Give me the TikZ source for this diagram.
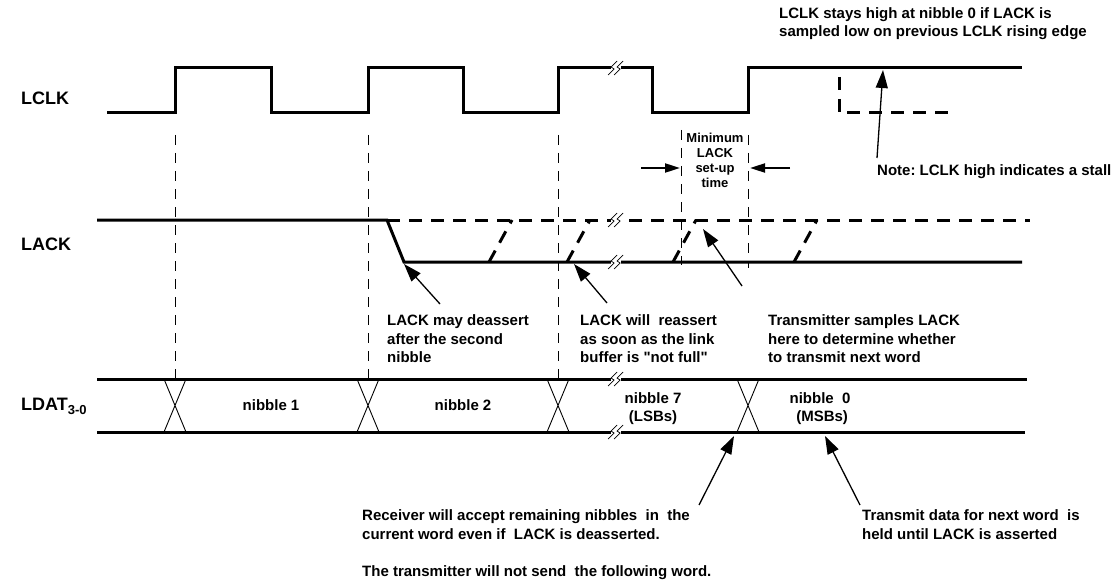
\documentclass[tikz,border=0pt]{standalone}
\usepackage{fontspec}
\setmainfont{Liberation Sans}[Ligatures=TeXOff]
\usetikzlibrary{arrows.meta}
\frenchspacing
\newcommand\wavebreak[2]{%
  \fill[white] (#1-5,#2-2.2) rectangle (#1+5,#2+2.2);
  \draw[brk] (#1-8,#2+7) -- (#1-2,#2+1) -- (#1-5,#2-1) -- (#1+1,#2-7);
  \draw[brk] (#1-2,#2+7) -- (#1+4,#2+1) -- (#1+1,#2-1) -- (#1+7,#2-7);
}
\begin{document}
\begin{tikzpicture}[x=1pt,y=-1pt,
  wave/.style={line width=3pt},
  altwave/.style={line width=3pt, dash pattern=on 13pt off 9pt},
  guide/.style={line width=0.8pt, dash pattern=on 10pt off 8pt},
  xline/.style={line width=0.9pt},
  brk/.style={line width=0.7pt},
  ann/.style={font=\fontsize{15}{18.5}\selectfont\bfseries, align=left, inner sep=0pt},
  nib/.style={font=\fontsize{15}{18}\selectfont\bfseries, align=center, inner sep=0pt},
  smalltxt/.style={font=\fontsize{13}{15}\selectfont\bfseries, align=center, inner sep=0pt},
  lbl/.style={font=\fontsize{18}{20}\selectfont\bfseries, inner sep=0pt, anchor=west},
  ptr/.style={line width=1.3pt, -{Triangle[length=18pt,width=12pt]}},
  setarr/.style={line width=2pt, -{Triangle[length=15pt,width=9pt]}},
]
\useasboundingbox (0,0) rectangle (1115,580);
\fill[white] (0,0) rectangle (1115,580);

% guide lines
\foreach \x in {175,368,558} \draw[guide] (\x,135) -- (\x,379);
\draw[guide] (748,135) -- (748,268);
\draw[guide] (681,130) -- (681,265);

% row labels
\node[lbl] (lclk) at (21,98) {LCLK};
\node[lbl] (lack) at (21,244) {LACK};
\node[lbl] (ldat) at (21,406) {LDAT\raisebox{-4pt}{\fontsize{13}{13}\selectfont 3-0}};

% LCLK
\draw[wave] (107,113) -- (175,113) -- (175,68) -- (271,68) -- (271,113) -- (368,113)
  -- (368,68) -- (463,68) -- (463,113) -- (558,113) -- (558,68) -- (652,68)
  -- (652,113) -- (748,113) -- (748,68) -- (1022,68);
\draw[altwave] (839,77) -- (839,113) -- (956,113);
\wavebreak{616}{68}

% LACK
\draw[altwave] (387,220) -- (1030,220);
\draw[wave] (97,220) -- (387,220) -- (404,262) -- (1022,262);
\foreach \x in {489,567,673,794} \draw[altwave] (\x,262) -- (\x+23,220);
\wavebreak{616}{220}
\wavebreak{616}{262}

% LDAT
\draw[wave] (97,379) -- (1027,379);
\draw[wave] (97,432) -- (1025,432);
\foreach \x in {175,368,558,748}
  \draw[xline] (\x-11,379) -- (\x+11,432) (\x+11,379) -- (\x-11,432);
\wavebreak{616}{379}
\wavebreak{616}{432}

\node[nib] (n1) at (271,405) {nibble 1};
\node[nib] (n2) at (463,405) {nibble 2};
\node[nib] (n7) at (653,409) {nibble 7\\(LSBs)};
\node[nib] (n0) at (820,409) {nibble\ \ 0\\\ (MSBs)};

% set-up time
\node[smalltxt] (setup) at (715,160.5) {Minimum\\LACK\\set-up\\time};
\coordinate (sa1) at (641,168);
\coordinate (sa1t) at (680,168);
\coordinate (sa2) at (790,168);
\coordinate (sa2t) at (750,168);
\draw[setarr] (sa1) -- (sa1t);
\draw[setarr] (sa2) -- (sa2t);

% annotations
\node[ann, anchor=north west] (topnote) at (779,7) {LCLK stays high at nibble 0 if LACK is\\sampled low on previous LCLK rising edge};
\node[ann, anchor=base west] (stall) at (877,175.5) {Note: LCLK high indicates a stall};
\node[ann, anchor=north west] (deassert) at (387,314.5) {LACK may deassert\\after the second\\nibble};
\node[ann, anchor=north west] (reassert) at (580,314.5) {LACK will\ \ reassert\\as soon as the link\\buffer is "not full"};
\node[ann, anchor=north west] (samples) at (768,314.5) {Transmitter samples LACK\\here to determine whether\\to transmit next word};
\node[ann, anchor=north west] (receiver) at (362,509.5) {Receiver will accept remaining nibbles\ \ in\ \ the\\current word even if\ \ LACK is deasserted.\\[18.5pt]The transmitter will not send\ \ the following word.};
\node[ann, anchor=north west] (hold) at (862,509.5) {Transmit data for next word\ \ is\\held until LACK is asserted};

% pointers
\coordinate (p1s) at (877,158); \coordinate (p1e) at (883,70);
\coordinate (p2s) at (440,304); \coordinate (p2e) at (404,264);
\coordinate (p3s) at (607,303); \coordinate (p3e) at (574,264);
\coordinate (p4s) at (742,286); \coordinate (p4e) at (703,229);
\coordinate (p5s) at (699,505); \coordinate (p5e) at (734,436);
\coordinate (p6s) at (860,505); \coordinate (p6e) at (825,436);
\foreach \a/\b in {p1s/p1e,p2s/p2e,p3s/p3e,p4s/p4e,p5s/p5e,p6s/p6e}
  \draw[ptr] (\a) -- (\b);
\end{tikzpicture}
\end{document}
